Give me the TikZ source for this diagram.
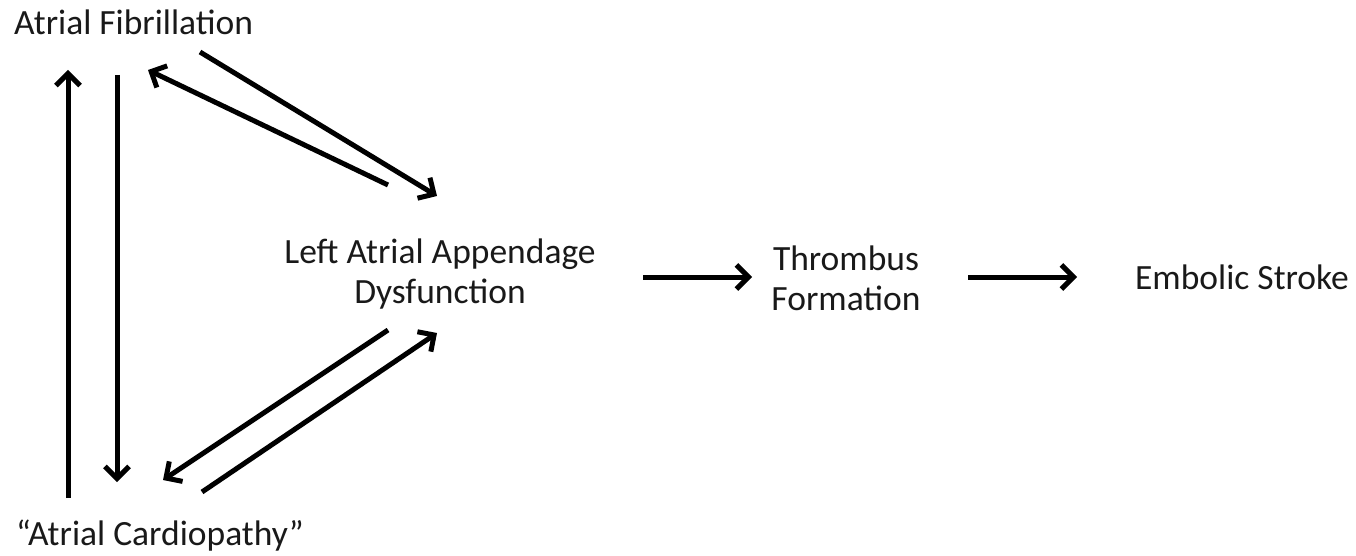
\documentclass[tikz,border=0pt]{standalone}
\usepackage{fontspec}
\setmainfont{Carlito}
\usetikzlibrary{arrows.meta}
\begin{document}
\begin{tikzpicture}[x=1pt,y=-1pt,
  lbl/.style={font=\fontsize{35.5}{40}\selectfont, inner sep=0pt, align=center, text=black!90},
  arr/.style={line width=5pt, -{Straight Barb[length=12pt,width=24pt,line width=5pt]}}]
\useasboundingbox (0,0) rectangle (1356,556);
\node[lbl, anchor=base west] (af) at (14,35) {Atrial Fibrillation};
\node[lbl, anchor=base west] (ac) at (16,545) {``Atrial Cardiopathy''};
\node[lbl] (laa) at (440,274) {Left Atrial Appendage\\Dysfunction};
\node[lbl] (tf) at (846,278) {Thrombus\\Formation};
\node[lbl, anchor=base] (es) at (1242,289) {Embolic Stroke};
% arrow endpoints
\coordinate (a1s) at (68,498);  \coordinate (a1e) at (68,70);
\coordinate (a2s) at (117,75);  \coordinate (a2e) at (117,482);
\coordinate (a3s) at (200,52);  \coordinate (a3e) at (437,196);
\coordinate (a4s) at (388,185); \coordinate (a4e) at (148,70);
\coordinate (a5s) at (388,330); \coordinate (a5e) at (163,480);
\coordinate (a6s) at (202,492); \coordinate (a6e) at (437,333);
\coordinate (a7s) at (643,277); \coordinate (a7e) at (752,277);
\coordinate (a8s) at (968,277); \coordinate (a8e) at (1077,277);
\draw[arr] (a1s) -- (a1e);
\draw[arr] (a2s) -- (a2e);
\draw[arr] (a3s) -- (a3e);
\draw[arr] (a4s) -- (a4e);
\draw[arr] (a5s) -- (a5e);
\draw[arr] (a6s) -- (a6e);
\draw[arr] (a7s) -- (a7e);
\draw[arr] (a8s) -- (a8e);
\end{tikzpicture}
\end{document}
